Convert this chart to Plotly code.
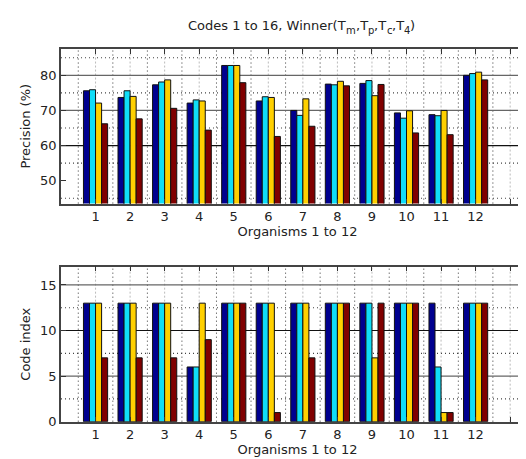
import plotly.graph_objects as go

# ---- data ----
organisms = list(range(1, 13))
series_names = ["T_m", "T_p", "T_c", "T_4"]
precision_m = [75.6, 73.7, 77.3, 72.1, 82.8, 72.7, 70.0, 77.5, 77.7, 69.3, 68.8, 80.0]
precision_p = [75.9, 75.6, 78.1, 73.0, 82.8, 73.9, 68.6, 77.3, 78.5, 67.8, 68.5, 80.5]
precision_c = [72.1, 74.0, 78.7, 72.7, 82.8, 73.7, 73.3, 78.3, 74.2, 69.9, 70.0, 80.9]
precision_4 = [66.2, 67.6, 70.6, 64.4, 77.9, 62.6, 65.5, 77.0, 77.4, 63.6, 63.1, 78.7]
code_m = [13, 13, 13, 6, 13, 13, 13, 13, 13, 13, 13, 13]
code_p = [13, 13, 13, 6, 13, 13, 13, 13, 13, 13, 6, 13]
code_c = [13, 13, 13, 13, 13, 13, 13, 13, 7, 13, 1, 13]
code_4 = [7, 7, 7, 9, 13, 1, 7, 13, 13, 13, 1, 13]
x_ticklabels = [str(i) for i in organisms]
x_extra_ticks = [0, 13]
y1_ticks = [50, 60, 70, 80]
y2_ticks = [0, 5, 10, 15]
# title pieces: (text, is_subscript)
title_pieces = [("Codes 1 to 16, Winner(T", False), ("m", True), (",T", False), ("p", True),
                (",T", False), ("c", True), (",T", False), ("4", True), (")", False)]

colors = ["#00008F", "#10DDF8", "#FFD000", "#800000"]
FONT = "DejaVu Sans, Liberation Sans, sans-serif"
TXT = "#222"

fig = go.Figure()
top_series = [precision_m, precision_p, precision_c, precision_4]
bot_series = [code_m, code_p, code_c, code_4]
for name, vals, col in zip(series_names, top_series, colors):
    fig.add_trace(go.Bar(x=organisms, y=vals, name=name, marker=dict(color=col, line=dict(color="#111", width=1)),
                         xaxis="x", yaxis="y", showlegend=False))
for name, vals, col in zip(series_names, bot_series, colors):
    fig.add_trace(go.Bar(x=organisms, y=vals, name=name, marker=dict(color=col, line=dict(color="#111", width=1)),
                         xaxis="x2", yaxis="y2", showlegend=False))

W, H = 526, 459
xdom = [53 / W, 1.0]
y1dom = [1 - 199 / H, 1 - 41.7 / H]
y2dom = [1 - 421 / H, 1 - 263.3 / H]
xrange_ = [0, 13.69]

tfont = dict(family=FONT, size=13, color=TXT)
axis_common = dict(
    showline=True, linecolor="#444", linewidth=1.5, ticks="inside", ticklen=5,
    tickcolor="#333", showgrid=False, zeroline=False, tickfont=tfont,
)
xminor = dict(tickvals=x_extra_ticks, ticks="inside", ticklen=5, tickcolor="#333", showgrid=False)

fig.update_layout(
    width=W, height=H, margin=dict(l=0, r=0, t=0, b=0),
    paper_bgcolor="white", plot_bgcolor="white",
    barmode="group", bargap=0.3, bargroupgap=0,
    xaxis=dict(domain=xdom, range=xrange_, anchor="y", tickvals=organisms, ticktext=x_ticklabels,
               mirror="ticks", minor=xminor,
               title=dict(text="Organisms 1 to 12", font=tfont, standoff=2), **axis_common),
    yaxis=dict(domain=y1dom, range=[43.5, 87.5], anchor="x", tickvals=y1_ticks,
               title=dict(text="Precision (%)", font=tfont, standoff=7), **axis_common),
    xaxis2=dict(domain=xdom, range=xrange_, anchor="y2", tickvals=organisms, ticktext=x_ticklabels,
                mirror="ticks", minor=xminor,
                title=dict(text="Organisms 1 to 12", font=tfont, standoff=2), **axis_common),
    yaxis2=dict(domain=y2dom, range=[0, 17], anchor="x2", tickvals=y2_ticks,
                title=dict(text="Code index", font=tfont, standoff=7), **axis_common),
)

shapes = []
def vlines(xref, yref):
    for k in range(0, 14):
        shapes.append(dict(type="line", xref=xref, yref=yref + " domain", x0=k + 0.5, x1=k + 0.5, y0=0, y1=1,
                           line=dict(color="#333", width=1, dash="1px,3px"), layer="below"))
        if k >= 1:
            shapes.append(dict(type="line", xref=xref, yref=yref + " domain", x0=k, x1=k, y0=0, y1=1,
                               line=dict(color="#bbb", width=1, dash="2px,2px"), layer="below"))

def hline(xref, yref, yv, color, dash):
    shapes.append(dict(type="line", xref=xref + " domain", yref=yref, x0=0, x1=1, y0=yv, y1=yv,
                       line=dict(color=color, width=1.2, dash=dash), layer="below"))

vlines("x", "y")
vlines("x2", "y2")
for v in [45, 55, 65, 75, 85]:
    hline("x", "y", v, "#444", "1px,3px")
hline("x", "y", 60, "#111", "solid")
hline("x", "y", 70, "#666", "solid")
hline("x", "y", 80, "#666", "solid")
for v in [2.5, 7.5, 12.5]:
    hline("x2", "y2", v, "#444", "1px,3px")
hline("x2", "y2", 5, "#666", "solid")
hline("x2", "y2", 10, "#111", "solid")
hline("x2", "y2", 15, "#666", "solid")
fig.update_layout(shapes=shapes)

# Title built from pieces (DejaVu Sans advance widths, units per 2048 em)
adv = {"C": 1430, "o": 1253, "d": 1300, "e": 1260, "s": 1067, " ": 651, "1": 1303, "t": 803,
       "6": 1303, ",": 651, "W": 2025, "i": 569, "n": 1298, "r": 842, "(": 799, ")": 799,
       "T": 1251, "m": 1995, "p": 1300, "c": 1126, "4": 1303}
MAIN, SUB = 13, 10
def width(s, size):
    return sum(adv[ch] for ch in s) / 2048 * size
total = sum(width(t, SUB if s else MAIN) for t, s in title_pieces)
cx, cy = 294, 18
xpos = cx - total / 2
for t, s in title_pieces:
    size = SUB if s else MAIN
    fig.add_annotation(text=t, x=xpos / W, y=1 - (cy + (5 if s else 0)) / H, xref="paper", yref="paper",
                       xanchor="left", yanchor="middle", showarrow=False, borderpad=0, borderwidth=0,
                       font=dict(family=FONT, size=size, color=TXT))
    xpos += width(t, size)

fig.write_html("out.html")
